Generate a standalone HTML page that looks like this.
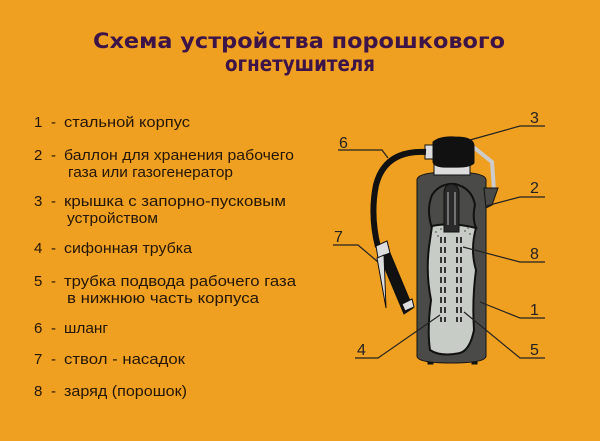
<!DOCTYPE html>
<html><head><meta charset="utf-8"><style>
html,body{margin:0;padding:0;background:#F0A020;}
svg{display:block}
</style></head><body>
<svg width="600" height="441" viewBox="0 0 600 441" xmlns="http://www.w3.org/2000/svg">
<rect width="600" height="441" fill="#F0A020"/>
<g font-family="'DejaVu Sans','Liberation Sans',sans-serif" font-weight="bold" fill="#3d1448" font-size="21" text-anchor="middle">
<text x="299" y="48" textLength="412" lengthAdjust="spacingAndGlyphs">Схема устройства порошкового</text>
<text x="300" y="71" textLength="150" lengthAdjust="spacingAndGlyphs">огнетушителя</text>
</g>
<g font-family="'Liberation Sans','DejaVu Sans',sans-serif" font-size="15" fill="#241608">
<text x="34" y="127">1</text><text x="51" y="127">-</text>
<text x="64" y="127" textLength="126" lengthAdjust="spacingAndGlyphs">стальной  корпус</text>
<text x="34" y="160">2</text><text x="51" y="160">-</text>
<text x="64" y="160" textLength="230" lengthAdjust="spacingAndGlyphs">баллон  для  хранения  рабочего</text>
<text x="68" y="177" textLength="165" lengthAdjust="spacingAndGlyphs">газа  или  газогенератор</text>
<text x="34" y="206">3</text><text x="51" y="206">-</text>
<text x="64" y="206" textLength="222" lengthAdjust="spacingAndGlyphs">крышка  с  запорно-пусковым</text>
<text x="67" y="223" textLength="91" lengthAdjust="spacingAndGlyphs">устройством</text>
<text x="34" y="253">4</text><text x="51" y="253">-</text>
<text x="64" y="253" textLength="128" lengthAdjust="spacingAndGlyphs">сифонная  трубка</text>
<text x="34" y="286">5</text><text x="51" y="286">-</text>
<text x="64" y="286" textLength="232" lengthAdjust="spacingAndGlyphs">трубка  подвода  рабочего  газа</text>
<text x="67" y="303" textLength="192" lengthAdjust="spacingAndGlyphs">в  нижнюю  часть  корпуса</text>
<text x="34" y="333">6</text><text x="51" y="333">-</text>
<text x="64" y="333" textLength="44" lengthAdjust="spacingAndGlyphs">шланг</text>
<text x="34" y="364">7</text><text x="51" y="364">-</text>
<text x="64" y="364" textLength="121" lengthAdjust="spacingAndGlyphs">ствол  -  насадок</text>
<text x="34" y="396">8</text><text x="51" y="396">-</text>
<text x="64" y="396" textLength="123" lengthAdjust="spacingAndGlyphs">заряд  (порошок)</text>
</g>
<g stroke="#111" stroke-width="1">
<rect x="428" y="358" width="5" height="6" fill="#111"/>
<rect x="472" y="358" width="5" height="6" fill="#111"/>
<path d="M417 180 Q417 172 451 172 Q486 172 486 180 L486 356 Q486 363 451 363 Q417 363 417 356 Z" fill="#4a4a48"/>
<path d="M472 146 L492 162 L494 190" fill="none" stroke="#ccc" stroke-width="4"/>
<path d="M484 188 L498 188 L492 205 L486 208 Z" fill="#4a4a48"/>
<rect x="434" y="163" width="36" height="12" fill="#ddd"/>
<rect x="425" y="145" width="10" height="14" fill="#ddd"/>
<path d="M433 142 Q440 136 455 137 Q473 137 474 145 L474 163 Q470 168 452 167 Q434 168 433 162 Z" fill="#111"/>
<path d="M432 228 Q426 210 432 195 Q440 183 455 184 Q472 188 475 205 Q472 218 476 228 Z" fill="#4a4a48" stroke="#111" stroke-width="2"/>
<path d="M432 226 Q452 222 476 228 Q470 250 476 270 Q472 300 474 330 Q470 350 460 353 Q440 357 430 350 Q427 330 431 300 Q425 270 430 240 Z" fill="#c8ccc6" stroke="#111" stroke-width="2"/>
<g fill="#777" stroke="none">
<circle cx="436" cy="232" r="1"/><circle cx="441" cy="229" r="1"/><circle cx="465" cy="231" r="1"/><circle cx="470" cy="234" r="1"/><circle cx="438" cy="236" r="1"/><circle cx="468" cy="228" r="1"/>
</g>
<path d="M444 232 L444 192 Q445 184 451 184 Q458 184 459 192 L459 232 Z" fill="#2a2a2a"/>
<line x1="448" y1="192" x2="448" y2="225" stroke="#bbb"/>
<line x1="455" y1="192" x2="455" y2="225" stroke="#bbb"/>
<line x1="441" y1="237" x2="441" y2="322" stroke="#333" stroke-width="2" stroke-dasharray="6,4"/>
<line x1="445" y1="237" x2="445" y2="322" stroke="#333" stroke-width="2" stroke-dasharray="6,4"/>
<line x1="457" y1="237" x2="457" y2="322" stroke="#333" stroke-width="2" stroke-dasharray="6,4"/>
<line x1="461" y1="237" x2="461" y2="322" stroke="#333" stroke-width="2" stroke-dasharray="6,4"/>
<path d="M426 152 Q385 150 376 185 Q370 215 378 247" fill="none" stroke="#111" stroke-width="6"/>
<path d="M376 246 L387 241 L390 253 L378 258 Z" fill="#ddd"/>
<path d="M380 257 L390 253 L413 308 L404 314 Z" fill="#111"/>
<path d="M402 304 L412 299 L414 307 L405 311 Z" fill="#ddd"/>
<path d="M377 258 L384 255 L386 308 Z" fill="#ddd"/>
</g>
<g stroke="#222" stroke-width="1.2" fill="none">
<path d="M470 140 L520 126 L545 126"/>
<path d="M338 150 L382 150 L388 158"/>
<path d="M486 206 L520 197 L545 197"/>
<path d="M333 245 L358 245 L378 262"/>
<path d="M463 247 L520 262 L545 262"/>
<path d="M480 302 L520 318 L545 318"/>
<path d="M440 315 L378 358 L355 358"/>
<path d="M464 312 L520 358 L545 358"/>
</g>
<g font-family="'Liberation Sans','DejaVu Sans',sans-serif" font-size="16" fill="#222">
<text x="530" y="123">3</text>
<text x="339" y="148">6</text>
<text x="530" y="193">2</text>
<text x="334" y="242">7</text>
<text x="530" y="259">8</text>
<text x="530" y="315">1</text>
<text x="357" y="355">4</text>
<text x="530" y="355">5</text>
</g>
</svg>
</body></html>
